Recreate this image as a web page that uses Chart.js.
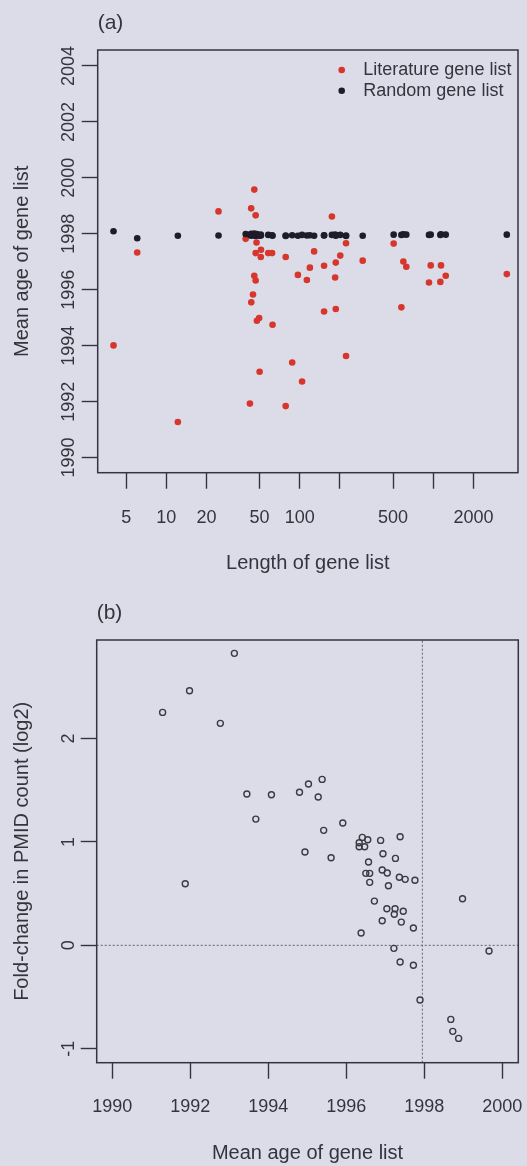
<!DOCTYPE html>
<html>
<head>
<meta charset="utf-8">
<title>Mean age of gene lists</title>
<script src="https://cdn.jsdelivr.net/npm/chart.js@4.4.1/dist/chart.umd.min.js"></script>
<style>
  html, body { margin: 0; padding: 0; background: #dcdce8; }
  .panel { position: absolute; left: 0; }
  #panelA { top: 0; }
  #panelB { top: 590px; }
</style>
</head>
<body>
<div class="panel" id="panelA"><canvas id="lengthChart" width="527" height="590"></canvas></div>
<div class="panel" id="panelB"><canvas id="foldChart" width="527" height="576"></canvas></div>
<script>
// (a) literature gene lists: number of genes and mean publication year
const litLength = [4.02, 6.05, 12.2, 24.6, 39.3, 42.3, 43.2, 43.3, 44.6, 45.6, 45.6, 46.7, 46.7, 46.7,
  47.4, 47.7, 49.6, 50, 51, 51.2, 58, 62, 62.5, 78.4, 78.4, 87.7, 96.8, 104, 113, 119, 128, 152, 152,
  174, 184, 186, 186, 201, 222, 222, 296, 505, 577, 597, 628, 929, 957, 1130, 1143, 1240, 3557];
const litAge = [1994.01, 1997.33, 1991.27, 1998.80, 1997.82, 1991.93, 1998.91, 1995.55, 1995.83, 1999.58,
  1996.50, 1998.66, 1997.31, 1996.33, 1997.69, 1994.89, 1994.99, 1993.07, 1997.17, 1997.43, 1997.31,
  1997.31, 1994.75, 1997.17, 1991.84, 1993.40, 1996.53, 1992.72, 1996.35, 1996.79, 1997.37, 1996.86,
  1995.22, 1998.62, 1996.44, 1996.97, 1995.31, 1997.22, 1997.66, 1993.63, 1997.04, 1997.65, 1995.37,
  1997.01, 1996.82, 1996.26, 1996.87, 1996.28, 1996.87, 1996.50, 1996.56];

// random gene lists of the same lengths
const randLength = litLength;
const randAge = [1998.09, 1997.84, 1997.93, 1997.94, 1997.99, 1997.96, 1998.00, 1997.93, 1997.97, 1997.95,
  1998.01, 1997.94, 1997.98, 1997.92, 1997.96, 1997.99, 1997.95, 1997.93, 1997.97, 1997.94, 1997.96,
  1997.95, 1997.93, 1997.94, 1997.92, 1997.95, 1997.93, 1997.96, 1997.94, 1997.95, 1997.93, 1997.95,
  1997.94, 1997.96, 1997.97, 1997.93, 1997.95, 1997.96, 1997.94, 1997.92, 1997.93, 1997.97, 1997.96,
  1997.98, 1997.97, 1997.96, 1997.97, 1997.96, 1997.98, 1997.97, 1997.97];

const lengthTicks = [5, 10, 20, 50, 100, 200, 500, 1000, 2000];
const lengthLabels = ['5', '10', '20', '50', '100', '', '500', '', '2000'];
const ageTicks = [1990, 1992, 1994, 1996, 1998, 2000, 2002, 2004];

// (b) fold-change in PMID count against the mean age of each list
const listAge = [1993.13, 1991.98, 1991.29, 1992.77, 1993.45, 1994.08, 1994.80, 1995.03, 1993.68, 1994.94,
  1991.87, 1995.38, 1995.28, 1995.91, 1995.42, 1995.61, 1996.41, 1996.55, 1996.33, 1996.33, 1996.47,
  1996.88, 1997.38, 1996.94, 1997.26, 1996.57, 1996.50, 1996.60, 1996.92, 1997.05, 1996.60, 1997.08,
  1997.36, 1997.51, 1997.76, 1996.72, 1997.04, 1997.25, 1997.23, 1997.46, 1996.92, 1997.41, 1997.72,
  1996.38, 1997.22, 1997.38, 1997.72, 1997.89, 1998.68, 1998.73, 1998.88, 1998.98, 1999.66];
const foldChange = [2.824, 2.462, 2.253, 2.147, 1.463, 1.457, 1.480, 1.560, 1.221, 0.902,
  0.596, 1.605, 1.434, 1.183, 1.112, 0.847, 1.044, 1.021, 0.992, 0.954, 0.954,
  1.015, 1.050, 0.886, 0.841, 0.806, 0.696, 0.696, 0.728, 0.699, 0.609, 0.576,
  0.658, 0.638, 0.629, 0.428, 0.354, 0.354, 0.300, 0.329, 0.238, 0.225, 0.167,
  0.119, -0.029, -0.161, -0.193, -0.529, -0.716, -0.832, -0.900, 0.451, -0.055];

const yearTicks = [1990, 1992, 1994, 1996, 1998, 2000];
const foldTicks = [-1, 0, 1, 2];
const yearRange = [1989.6, 2000.41];
const foldRange = [-1.135, 2.953];
const randomMeanAge = 1997.95;

const FONT = '"Liberation Sans", Arial, Helvetica, sans-serif';
const INK = '#34343e';
const RED = '#d6362b';
const DARK = '#1d1d29';

Chart.defaults.font.family = FONT;
Chart.defaults.color = INK;

const toPoints = (xs, ys) => xs.map((x, i) => ({ x, y: ys[i] }));
const fixedTicks = (values) => (scale) => { scale.ticks = values.map((value) => ({ value })); };

// pin an axis to a fixed thickness and stop it from pushing the plot edges in
const fixedSize = (size) => (scale) => {
  if (scale.isHorizontal()) {
    scale.height = size;
  } else {
    scale.width = size;
  }
  scale.paddingLeft = 0;
  scale.paddingRight = 0;
  scale.paddingTop = 0;
  scale.paddingBottom = 0;
};

const tickFont = { family: FONT, size: 18 };
const titleFont = { family: FONT, size: 20 };
const tickGrid = {
  display: true,
  drawOnChartArea: false,
  drawTicks: true,
  tickLength: 16,
  tickColor: INK,
  tickWidth: 1.4,
};

// box round the plot area plus the panel tag above it
const frame = {
  id: 'frame',
  afterDraw(chart, args, opts) {
    const { ctx, chartArea: a } = chart;
    ctx.save();
    ctx.strokeStyle = INK;
    ctx.lineWidth = 1.5;
    ctx.strokeRect(a.left, a.top, a.right - a.left, a.bottom - a.top);
    ctx.fillStyle = INK;
    ctx.font = '21px ' + FONT;
    ctx.textAlign = 'left';
    ctx.textBaseline = 'middle';
    ctx.fillText(opts.tag, a.left, a.top - 27);
    ctx.restore();
  },
};

// legend drawn inside the top-right corner of the plot
const dotLegend = {
  id: 'dotLegend',
  afterDraw(chart) {
    const { ctx, chartArea: a } = chart;
    ctx.save();
    ctx.font = '18px ' + FONT;
    ctx.textAlign = 'left';
    ctx.textBaseline = 'middle';
    chart.data.datasets.forEach((ds, i) => {
      const x = a.right - 176.3;
      const y = a.top + 20 + i * 20.7;
      ctx.fillStyle = ds.backgroundColor;
      ctx.beginPath();
      ctx.arc(x, y, 3.3, 0, Math.PI * 2);
      ctx.fill();
      ctx.fillStyle = INK;
      ctx.fillText(ds.label, x + 21.6, y);
    });
    ctx.restore();
  },
};

new Chart(document.getElementById('lengthChart'), {
  type: 'scatter',
  data: {
    datasets: [
      {
        label: 'Literature gene list',
        data: toPoints(litLength, litAge),
        backgroundColor: RED,
        pointRadius: 3.3,
        pointBorderWidth: 0,
        order: 1,
      },
      {
        label: 'Random gene list',
        data: toPoints(randLength, randAge),
        backgroundColor: DARK,
        pointRadius: 3.3,
        pointBorderWidth: 0,
        order: 0,
      },
    ],
  },
  options: {
    responsive: false,
    animation: false,
    layout: { padding: { top: 50, right: 9, left: 0, bottom: 0 } },
    plugins: {
      legend: { display: false },
      tooltip: { enabled: false },
      frame: { tag: '(a)' },
    },
    scales: {
      x: {
        type: 'logarithmic',
        min: 3.06,
        max: 4315,
        afterBuildTicks: fixedTicks(lengthTicks),
        afterFit: fixedSize(117.3),
        grid: tickGrid,
        border: { display: false },
        ticks: {
          autoSkip: false,
          minRotation: 0,
          maxRotation: 0,
          padding: 18.5,
          color: INK,
          font: tickFont,
          callback: (v, i) => lengthLabels[i],
        },
        title: { display: true, text: 'Length of gene list', color: INK, font: titleFont, padding: { top: 0, bottom: 14.9 } },
      },
      y: {
        min: 1989.46,
        max: 2004.57,
        afterBuildTicks: fixedTicks(ageTicks),
        afterFit: fixedSize(97.7),
        grid: tickGrid,
        border: { display: false },
        ticks: {
          minRotation: 90,
          maxRotation: 90,
          crossAlign: 'center',
          padding: -7.8,
          color: INK,
          font: tickFont,
          callback: (v) => String(v),
        },
        title: { display: true, text: 'Mean age of gene list', color: INK, font: titleFont, padding: { top: 10, bottom: 0 } },
      },
    },
  },
  plugins: [frame, dotLegend],
});

new Chart(document.getElementById('foldChart'), {
  type: 'scatter',
  data: {
    datasets: [
      {
        label: 'Fold-change',
        data: toPoints(listAge, foldChange),
        backgroundColor: 'rgba(0,0,0,0)',
        borderColor: '#3a3a44',
        pointRadius: 3,
        pointBorderWidth: 1.4,
      },
      {
        label: 'No change',
        data: yearRange.map((x) => ({ x, y: 0 })),
        showLine: true,
        borderColor: '#62626e',
        borderWidth: 1,
        borderDash: [2, 2],
        pointRadius: 0,
      },
      {
        label: 'Random list mean age',
        data: foldRange.map((y) => ({ x: randomMeanAge, y })),
        showLine: true,
        borderColor: '#62626e',
        borderWidth: 1,
        borderDash: [2, 2],
        pointRadius: 0,
      },
    ],
  },
  options: {
    responsive: false,
    animation: false,
    layout: { padding: { top: 50, right: 8.7, left: 0, bottom: 0 } },
    plugins: {
      legend: { display: false },
      tooltip: { enabled: false },
      frame: { tag: '(b)' },
    },
    scales: {
      x: {
        min: yearRange[0],
        max: yearRange[1],
        afterBuildTicks: fixedTicks(yearTicks),
        afterFit: fixedSize(103.3),
        grid: tickGrid,
        border: { display: false },
        ticks: {
          autoSkip: false,
          minRotation: 0,
          maxRotation: 0,
          padding: 18,
          color: INK,
          font: tickFont,
          callback: (v) => String(v),
        },
        title: { display: true, text: 'Mean age of gene list', color: INK, font: titleFont, padding: { top: 0, bottom: 0.9 } },
      },
      y: {
        min: foldRange[0],
        max: foldRange[1],
        afterBuildTicks: fixedTicks(foldTicks),
        afterFit: fixedSize(96.7),
        grid: tickGrid,
        border: { display: false },
        ticks: {
          minRotation: 90,
          maxRotation: 90,
          crossAlign: 'center',
          padding: 3.7,
          color: INK,
          font: tickFont,
          callback: (v) => String(v),
        },
        title: { display: true, text: 'Fold-change in PMID count (log2)', color: INK, font: titleFont, padding: { top: 10, bottom: 0 } },
      },
    },
  },
  plugins: [frame],
});
</script>
</body>
</html>
